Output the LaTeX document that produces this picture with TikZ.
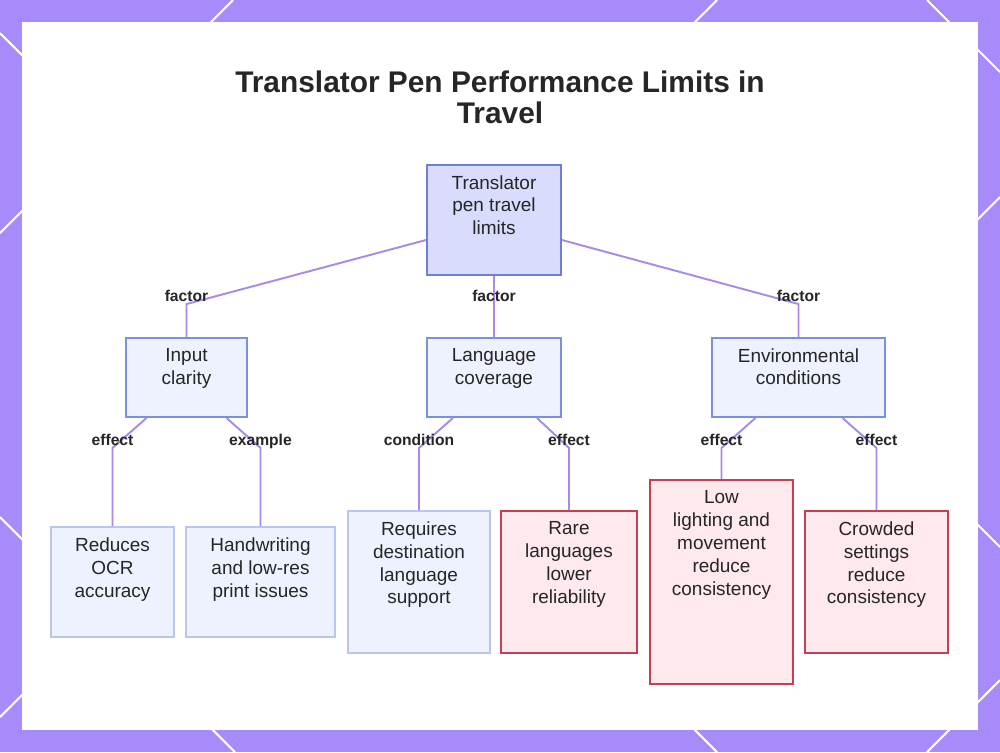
\documentclass[tikz,border=0pt]{standalone}
\usepackage{fontspec}
\setmainfont{Liberation Sans}
\definecolor{bgviolet}{RGB}{167,139,250}
\definecolor{linkviolet}{RGB}{168,138,232}
\definecolor{rootfill}{RGB}{217,220,252}
\definecolor{rootdraw}{RGB}{112,126,214}
\definecolor{midfill}{RGB}{238,241,254}
\definecolor{middraw}{RGB}{124,144,224}
\definecolor{leaffill}{RGB}{238,242,254}
\definecolor{leafdraw}{RGB}{184,198,240}
\definecolor{riskfill}{RGB}{254,233,236}
\definecolor{riskdraw}{RGB}{200,62,82}
\definecolor{inkdark}{RGB}{38,38,38}
\usetikzlibrary{calc}

\begin{document}
\begin{tikzpicture}[
        x=0.02cm, y=-0.02cm,
        box/.style={draw, line width=1.1pt, inner sep=0pt},
        rootbox/.style={box, fill=rootfill, draw=rootdraw},
        midbox/.style={box, fill=midfill, draw=middraw},
        leafbox/.style={box, fill=leaffill, draw=leafdraw, line width=0.9pt},
        riskbox/.style={box, fill=riskfill, draw=riskdraw, line width=0.9pt},
        txt/.style={anchor=north, yshift=-0.22cm, inner sep=0pt, align=center,
                    text=inkdark, font=\fontsize{10.8}{13}\selectfont},
        lbl/.style={yshift=0.14cm, inner sep=1pt, text=inkdark,
                    text height=6.6pt, text depth=1.8pt,
                    font=\fontsize{8.9}{10}\selectfont\bfseries},
        title/.style={align=center, text=inkdark,
                      font=\fontsize{17}{17.6}\selectfont\bfseries},
        link/.style={draw=linkviolet, line width=1.1pt}
      ]
        % frame
        \fill[bgviolet] (0,0) rectangle (1000,752);
        \useasboundingbox (0,0) rectangle (1000,752);
        \draw[white, line width=1.2pt]
              (0,33) -- (40,73)   (233,0) -- (193,40)
              (717,0) -- (677,40)  (927,0) -- (967,40)
              (960,32) -- (1000,72)  (1000,197) -- (960,237)
              (0,233) -- (40,193)  (0,517) -- (40,557)
              (1000,547) -- (960,507)  (0,717) -- (40,677)
              (195,712) -- (235,752)  (677,712) -- (717,752)
              (927,752) -- (967,712)  (1000,680) -- (960,720);
        \fill[white] (22,22) rectangle (978,730);

        \node[title] (title) at (500,97) {Translator Pen Performance Limits in\\Travel};

        % boxes
        \node[rootbox, minimum width=2.68cm, minimum height=2.2cm] (root) at (494,220) {};
        \node[txt] (root-t) at (root.north) {Translator\\pen travel\\limits};

        \node[midbox, minimum width=2.42cm, minimum height=1.58cm] (inp) at (186.5,377.5) {};
        \node[txt] (inp-t) at (inp.north) {Input\\clarity};
        \node[midbox, minimum width=2.68cm, minimum height=1.58cm] (lang) at (494,377.5) {};
        \node[txt] (lang-t) at (lang.north) {Language\\coverage};
        \node[midbox, minimum width=3.46cm, minimum height=1.58cm] (env) at (798.5,377.5) {};
        \node[txt] (env-t) at (env.north) {Environmental\\conditions};

        \node[leafbox, minimum width=2.46cm, minimum height=2.2cm] (ocr) at (112.5,582) {};
        \node[txt] (ocr-t) at (ocr.north) {Reduces\\OCR\\accuracy};
        \node[leafbox, minimum width=2.98cm, minimum height=2.2cm] (hand) at (260.5,582) {};
        \node[txt] (hand-t) at (hand.north) {Handwriting\\and low-res\\print issues};
        \node[leafbox, minimum width=2.84cm, minimum height=2.84cm] (req) at (419,582) {};
        \node[txt] (req-t) at (req.north) {Requires\\destination\\language\\support};
        \node[riskbox, minimum width=2.72cm, minimum height=2.84cm] (rare) at (569,582) {};
        \node[txt] (rare-t) at (rare.north) {Rare\\languages\\lower\\reliability};
        \node[riskbox, minimum width=2.86cm, minimum height=4.08cm] (low) at (721.5,582) {};
        \node[txt] (low-t) at (low.north) {Low\\lighting and\\movement\\reduce\\consistency};
        \node[riskbox, minimum width=2.86cm, minimum height=2.84cm] (crowd) at (876.5,582) {};
        \node[txt] (crowd-t) at (crowd.north) {Crowded\\settings\\reduce\\consistency};

        % links
        \draw[link] ($(root.west)+(0,20)$) -- ($(inp.north)+(0,-33)$)
              node[lbl] (f1) {factor} -- (inp.north);
        \draw[link] (root.south) -- ($(lang.north)+(0,-33)$)
              node[lbl] (f2) {factor} -- (lang.north);
        \draw[link] ($(root.east)+(0,20)$) -- ($(env.north)+(0,-33)$)
              node[lbl] (f3) {factor} -- (env.north);

        \draw[link] ($(inp.south)+(-40,0)$) -- ++(-34,30)
              node[lbl] (e1) {effect} -- (ocr.north);
        \draw[link] ($(inp.south)+(40,0)$) -- ++(34,30)
              node[lbl] (x1) {example} -- (hand.north);
        \draw[link] ($(lang.south)+(-41,0)$) -- ++(-34,30)
              node[lbl] (c1) {condition} -- (req.north);
        \draw[link] ($(lang.south)+(43,0)$) -- ++(32,30)
              node[lbl] (e2) {effect} -- (rare.north);
        \draw[link] ($(env.south)+(-43,0)$) -- ++(-34,30)
              node[lbl] (e3) {effect} -- (low.north);
        \draw[link] ($(env.south)+(44,0)$) -- ++(34,30)
              node[lbl] (e4) {effect} -- (crowd.north);
      \end{tikzpicture}
\end{document}
